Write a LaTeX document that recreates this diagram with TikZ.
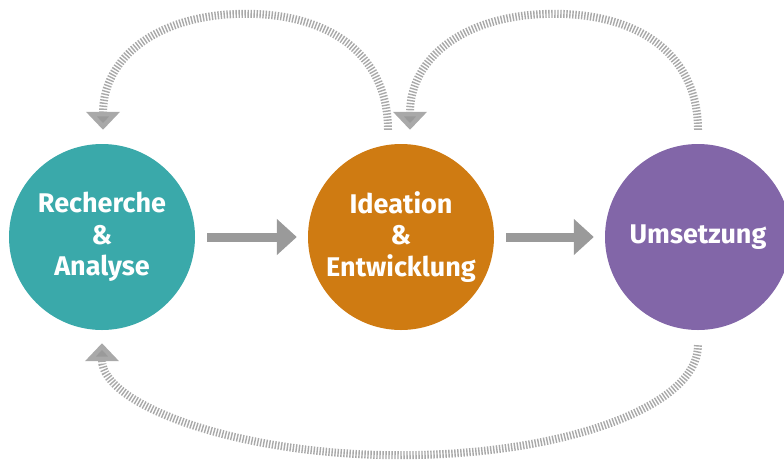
\documentclass[tikz,border=0pt]{standalone}
\usepackage{fontspec}
\setmainfont{Fira Sans}
\usepackage{tikz}
\usetikzlibrary{arrows.meta,calc}
\definecolor{tealc}{HTML}{3AA9AA}
\definecolor{orangec}{HTML}{CF7B12}
\definecolor{purplec}{HTML}{8266A8}
\definecolor{arrowc}{HTML}{9A9A9A}
\definecolor{tickc}{HTML}{A9A9A9}

\begin{document}
\begin{tikzpicture}[x=1pt,y=-1pt,
phase/.style={circle,minimum size=186pt,inner sep=0pt,text=white,align=center,font=\bfseries\fontsize{27}{31.5}\selectfont},
flow/.style={draw=arrowc,line width=9pt,-{Triangle[width=35pt,length=20pt]},shorten <=12pt,shorten >=11pt},
loopback/.style={draw=tickc,line width=8pt,dash pattern=on 1.4pt off 1.6pt,-{Triangle[width=33pt,length=18pt,fill=arrowc]}}]
\useasboundingbox (0,0) rectangle (784,461);
\node [phase,fill=tealc] (rec) at (102,237) {Recherche\\\&\\Analyse};
\node [phase,fill=orangec] (ide) at (401,237) {Ideation\\\&\\Entwicklung};
\node [phase,fill=purplec] (ums) at (698,237) {Umsetzung};
% main flow
\draw [flow] (rec) -- (ide);
\draw [flow] (ide) -- (ums);
% ends and tops of the loops
\coordinate (recin) at ([xshift=1pt,yshift=14pt]rec.north);
\coordinate (ideout) at ([xshift=-13pt,yshift=14pt]ide.north);
\coordinate (idein) at ([xshift=9pt,yshift=14pt]ide.north);
\coordinate (umsout) at ([yshift=14pt]ums.north);
\coordinate (umsdown) at ([yshift=-15pt]ums.south);
\coordinate (recup) at ([yshift=-13pt]rec.south);
\coordinate (topleft) at ($(ideout)!0.5!(recin)+(0,-116)$);
\coordinate (topright) at ($(umsout)!0.5!(idein)+(0,-116)$);
\coordinate (bottom) at ($(umsdown)!0.5!(recup)+(0,111)$);
% loops back
\draw [loopback] (ideout) .. controls +(0,-72) and +(88,0) .. (topleft) .. controls +(-88,0) and +(0,-72) .. (recin);
\draw [loopback] (umsout) .. controls +(0,-72) and +(89,0) .. (topright) .. controls +(-89,0) and +(0,-72) .. (idein);
\draw [loopback] (umsdown) .. controls +(0,61) and +(164,0) .. (bottom) .. controls +(-164,0) and +(0,61) .. (recup);
\end{tikzpicture}
\end{document}
